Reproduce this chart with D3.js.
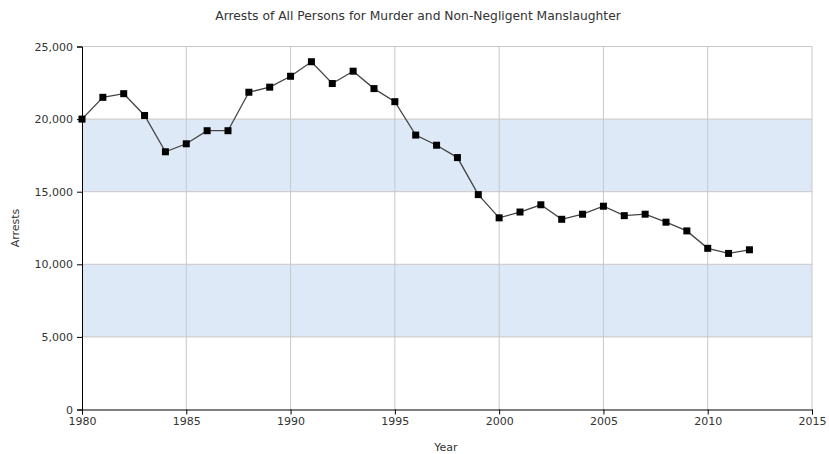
<!DOCTYPE html>
<html>
<head>
<meta charset="utf-8">
<style>
    body{ margin:0; background:#fff; }
    text{ font-family:"DejaVu Sans", sans-serif; fill:#333; }
    .tick text{ font-size:11px; fill:#333; }
    .domain, .tick line{ stroke:#000; }
</style>
<script src="https://cdn.jsdelivr.net/npm/d3@7"></script>
</head>
<body>
<script>
var width = 829, height = 454;
var margin = {top:46.5, right:17, bottom:44.5, left:82};

// data
var years = [1980,1981,1982,1983,1984,1985,1986,1987,1988,1989,1990,1991,1992,1993,1994,1995,1996,
             1997,1998,1999,2000,2001,2002,2003,2004,2005,2006,2007,2008,2009,2010,2011,2012];
var arrests = [20000,21500,21750,20250,17750,18300,19200,19200,21850,22200,22950,23950,22450,23300,22100,21200,18900,
               18200,17350,14800,13200,13600,14100,13100,13450,14000,13350,13450,12900,12300,11100,10750,11000];
var xTicks = [1980,1985,1990,1995,2000,2005,2010,2015];
var yTicks = [0,5000,10000,15000,20000,25000];
var bands = [[5000,10000],[15000,20000]];

var svg = d3.select("body").append("svg")
            .attr("width", width)
            .attr("height", height);

var x = d3.scaleLinear().domain([1980,2015]).range([margin.left, width-margin.right]);
var y = d3.scaleLinear().domain([0,25000]).range([height-margin.bottom, margin.top]);

// alternating bands
svg.selectAll("rect.band").data(bands).enter().append("rect")
   .attr("class","band")
   .attr("x", x(1980))
   .attr("width", x(2015)-x(1980))
   .attr("y", function(d){ return y(d[1]); })
   .attr("height", function(d){ return y(d[0])-y(d[1]); })
   .attr("fill", "#dde9f7");

// grid
svg.selectAll("line.vg").data(xTicks.slice(1)).enter().append("line")
   .attr("x1", function(d){ return x(d); }).attr("x2", function(d){ return x(d); })
   .attr("y1", y(0)).attr("y2", y(25000))
   .attr("stroke", "#c8c8c8").attr("stroke-width", 1);
svg.selectAll("line.hg").data(yTicks.slice(1)).enter().append("line")
   .attr("x1", x(1980)).attr("x2", x(2015))
   .attr("y1", function(d){ return y(d); }).attr("y2", function(d){ return y(d); })
   .attr("stroke", "#c8c8c8").attr("stroke-width", 1);

// axes
svg.append("g")
   .attr("transform", "translate(0," + y(0) + ")")
   .call(d3.axisBottom(x).tickValues(xTicks).tickFormat(d3.format("d")).tickSizeOuter(0).tickSize(5).tickPadding(3));
svg.append("g")
   .attr("transform", "translate(" + x(1980) + ",0)")
   .call(d3.axisLeft(y).tickValues(yTicks).tickFormat(d3.format(",")).tickSizeOuter(0).tickSize(5).tickPadding(4));

// series
var pts = years.map(function(yr,i){ return [yr, arrests[i]]; });
svg.append("path")
   .datum(pts)
   .attr("fill","none")
   .attr("stroke","#444")
   .attr("stroke-width",1.3)
   .attr("d", d3.line().x(function(d){ return x(d[0]); }).y(function(d){ return y(d[1]); }));

svg.selectAll("rect.pt").data(pts).enter().append("rect")
   .attr("class","pt")
   .attr("x", function(d){ return x(d[0])-3.5; })
   .attr("y", function(d){ return y(d[1])-3.5; })
   .attr("width",7).attr("height",7)
   .attr("fill","#000");

// labels
svg.append("text")
   .attr("x", 418).attr("y", 20)
   .attr("text-anchor","middle")
   .style("font-size","12.3px")
   .text("Arrests of All Persons for Murder and Non-Negligent Manslaughter");

svg.append("text")
   .attr("x", 446).attr("y", 451)
   .attr("text-anchor","middle")
   .style("font-size","11px")
   .text("Year");

svg.append("text")
   .attr("transform","translate(19,228) rotate(-90)")
   .attr("text-anchor","middle")
   .style("font-size","11px")
   .text("Arrests");
</script>
</body>
</html>
